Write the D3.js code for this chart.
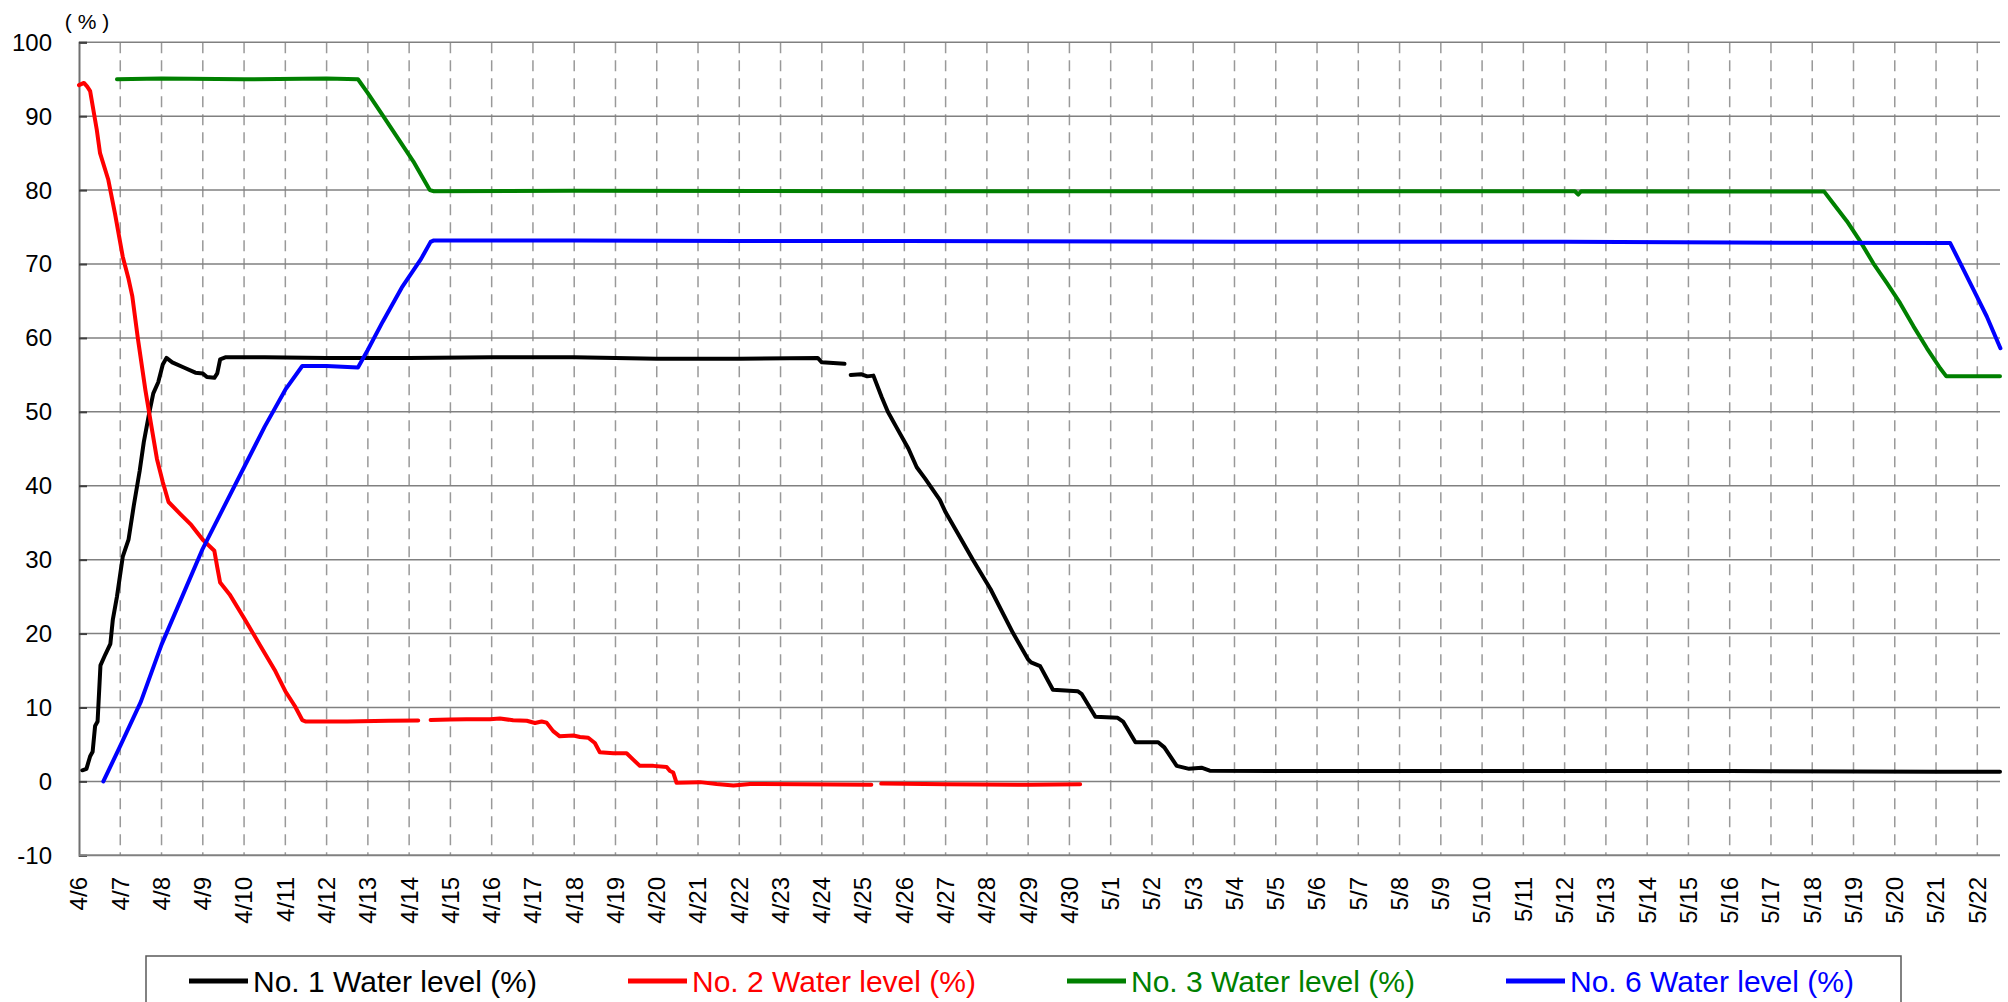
<!DOCTYPE html>
<html>
<head>
<meta charset="utf-8">
<script src="https://cdn.jsdelivr.net/npm/d3@7"></script>
<style>
  body { margin: 0; background: #fff; }
  text { font-family: "Liberation Sans", Arial, sans-serif; }
</style>
</head>
<body>
<div id="chart"></div>
<script>
// tick labels: one per day, 4/6 .. 5/22
const dayLabels = [
  "4/6", "4/7", "4/8", "4/9", "4/10", "4/11", "4/12", "4/13", "4/14", "4/15",
  "4/16", "4/17", "4/18", "4/19", "4/20", "4/21", "4/22", "4/23", "4/24", "4/25",
  "4/26", "4/27", "4/28", "4/29", "4/30", "5/1", "5/2", "5/3", "5/4", "5/5",
  "5/6", "5/7", "5/8", "5/9", "5/10", "5/11", "5/12", "5/13", "5/14", "5/15",
  "5/16", "5/17", "5/18", "5/19", "5/20", "5/21", "5/22"
];
const yTicks = [-10, 0, 10, 20, 30, 40, 50, 60, 70, 80, 90, 100];

// [days since 4/6 00:00, level %]; null level = missing data
const no1Level = [
  [0.08, 1.5], [0.18, 1.7], [0.27, 3.4], [0.33, 4.0], [0.39, 7.5], [0.45, 8.1],
  [0.52, 15.7], [0.64, 17.2], [0.76, 18.6], [0.82, 21.9], [0.92, 25.0], [1.06, 30.4],
  [1.2, 32.7], [1.33, 37.4], [1.47, 42.0], [1.57, 45.9], [1.7, 49.8], [1.8, 52.5],
  [1.92, 54.0], [2.03, 56.4], [2.12, 57.3], [2.26, 56.7], [2.54, 56.0], [2.82, 55.3],
  [3.0, 55.2], [3.1, 54.7], [3.28, 54.6], [3.35, 55.2], [3.42, 57.1], [3.56, 57.4],
  [4.5, 57.4], [6, 57.3], [8, 57.3], [10, 57.4], [12, 57.4], [14, 57.2], [16, 57.2],
  [17.9, 57.3], [18.0, 56.7], [18.55, 56.5], [18.6, null],
  [18.7, 55.0], [18.95, 55.1], [19.1, 54.8], [19.25, 54.9], [19.45, 52.0], [19.6, 50.0],
  [19.8, 48.0], [20.1, 45.0], [20.3, 42.5], [20.5, 41.0], [20.86, 38.1], [21.0, 36.4],
  [21.3, 33.5], [21.66, 30.0], [22.09, 26.0], [22.63, 20.1], [23.0, 16.5], [23.07, 16.1],
  [23.29, 15.6], [23.6, 12.4], [24.2, 12.2], [24.3, 11.8], [24.63, 8.75], [25.17, 8.6],
  [25.3, 8.1], [25.6, 5.3], [26.15, 5.3], [26.3, 4.6], [26.6, 2.1], [26.9, 1.7],
  [27.2, 1.85], [27.4, 1.45], [30, 1.4], [35, 1.4], [40, 1.4], [45, 1.3], [46.55, 1.3]
];

const no2Level = [
  [0, 94.2], [0.12, 94.5], [0.2, 94.0], [0.27, 93.4], [0.43, 88.2], [0.51, 85.0],
  [0.71, 81.4], [0.87, 76.9], [1.06, 71.0], [1.2, 68.0], [1.29, 65.7], [1.43, 59.8],
  [1.61, 52.9], [1.75, 48.2], [1.89, 43.6], [2.03, 40.5], [2.17, 37.8], [2.45, 36.2],
  [2.72, 34.7], [3.0, 32.7], [3.28, 31.2], [3.35, 29.0], [3.42, 26.9], [3.65, 25.3],
  [4.02, 21.9], [4.39, 18.4], [4.76, 14.9], [5.0, 12.2], [5.23, 10.2], [5.41, 8.3],
  [5.5, 8.1], [6.5, 8.1], [7.5, 8.2], [8.22, 8.25], [8.3, null],
  [8.52, 8.3], [8.99, 8.36], [9.39, 8.4], [9.96, 8.4], [10.2, 8.5], [10.52, 8.27],
  [10.85, 8.2], [11.05, 7.9], [11.21, 8.1], [11.33, 7.95], [11.49, 6.8], [11.65, 6.1],
  [11.98, 6.2], [12.14, 6.0], [12.34, 5.9], [12.5, 5.2], [12.62, 3.95], [12.95, 3.8],
  [13.27, 3.8], [13.43, 2.95], [13.59, 2.1], [13.92, 2.1], [14.24, 1.95], [14.32, 1.4],
  [14.4, 1.2], [14.48, -0.2], [15.05, -0.1], [15.45, -0.35], [15.86, -0.55], [16.26, -0.35],
  [17.47, -0.4], [19.2, -0.45], [19.3, null],
  [19.44, -0.3], [21, -0.4], [23, -0.45], [24.26, -0.4]
];

const no3Level = [
  [0.92, 95.0], [2, 95.1], [4, 95.0], [6, 95.1], [6.76, 95.0], [6.99, 93.2],
  [7.36, 90.1], [7.73, 87.0], [8.1, 83.9], [8.5, 80.0], [8.6, 79.85], [12, 79.9],
  [20, 79.85], [28, 79.85], [36.25, 79.85], [36.33, 79.4], [36.4, 79.85], [42.29, 79.8],
  [42.51, 78.2], [42.84, 75.8], [43.16, 73.1], [43.48, 70.1], [43.81, 67.4], [44.13, 64.7],
  [44.45, 61.6], [44.78, 58.6], [45.1, 55.9], [45.25, 54.8], [46.55, 54.8]
];

const no6Level = [
  [0.59, 0], [1.0, 4.8], [1.5, 10.8], [2.0, 18.5], [2.5, 25.0], [3.0, 31.5],
  [3.5, 37.0], [4.0, 42.5], [4.5, 48.0], [5.0, 53.0], [5.41, 56.2], [6.0, 56.2],
  [6.76, 56.0], [6.99, 58.3], [7.36, 62.2], [7.82, 66.8], [8.29, 70.7], [8.52, 73.0],
  [8.6, 73.2], [12, 73.2], [16, 73.1], [20, 73.1], [28, 73.0], [36, 73.0], [40, 72.9],
  [45.34, 72.85], [45.59, 70.1], [45.91, 66.5], [46.23, 62.9], [46.56, 58.6]
];

const seriesNames = ["No. 1 Water level (%)", "No. 2 Water level (%)", "No. 3 Water level (%)", "No. 6 Water level (%)"];
const seriesColors = ["#000000", "#ff0000", "#008000", "#0000ff"];
const seriesValues = [no1Level, no2Level, no3Level, no6Level];

const width = 2008, height = 1002;
const plot = { left: 79, right: 2000, top: 42.3, bottom: 855.3 };

const svg = d3.select("#chart").append("svg")
  .attr("width", width)
  .attr("height", height);

const x = d3.scaleLinear().domain([0, 46.55]).range([plot.left, plot.right]);
const y = d3.scaleLinear().domain([-10, 100]).range([plot.bottom, plot.top]);

// vertical dashed day lines
svg.append("g")
  .selectAll("line")
  .data(d3.range(1, dayLabels.length))
  .join("line")
  .attr("x1", d => x(d)).attr("x2", d => x(d))
  .attr("y1", plot.top).attr("y2", plot.bottom)
  .attr("stroke", "#999")
  .attr("stroke-width", 1.5)
  .attr("stroke-dasharray", "11,7");

// horizontal grid
svg.append("g")
  .selectAll("line")
  .data(yTicks.filter(d => d > -10))
  .join("line")
  .attr("x1", plot.left).attr("x2", plot.right)
  .attr("y1", d => y(d)).attr("y2", d => y(d))
  .attr("stroke", "#808080")
  .attr("stroke-width", 1.5);

// y axis
svg.append("g")
  .attr("transform", `translate(${plot.left},0)`)
  .call(d3.axisRight(y).tickValues(yTicks).tickSize(8).tickFormat(""))
  .call(g => g.select(".domain").attr("stroke", "#707070").attr("stroke-width", 2))
  .call(g => g.selectAll(".tick line").attr("stroke", "#404040").attr("stroke-width", 2));

svg.append("g")
  .selectAll("text")
  .data(yTicks)
  .join("text")
  .attr("x", 52)
  .attr("y", d => y(d))
  .attr("dy", "0.35em")
  .attr("text-anchor", "end")
  .attr("font-size", 24)
  .attr("fill", "#000")
  .text(d => d);

// x axis
svg.append("line")
  .attr("x1", plot.left).attr("x2", plot.right)
  .attr("y1", plot.bottom).attr("y2", plot.bottom)
  .attr("stroke", "#808080")
  .attr("stroke-width", 2);

svg.append("g")
  .selectAll("text")
  .data(dayLabels)
  .join("text")
  .attr("transform", (d, i) => `translate(${x(i)},877) rotate(-90)`)
  .attr("dy", "0.35em")
  .attr("text-anchor", "end")
  .attr("font-size", 24)
  .attr("fill", "#000")
  .text(d => d);

svg.append("text")
  .attr("x", 87)
  .attr("y", 29)
  .attr("text-anchor", "middle")
  .attr("font-size", 21)
  .text("( % )");

// series lines
const line = d3.line()
  .defined(d => d[1] != null)
  .x(d => x(d[0]))
  .y(d => y(d[1]));

svg.append("g")
  .selectAll("path")
  .data(seriesValues)
  .join("path")
  .attr("fill", "none")
  .attr("stroke", (d, i) => seriesColors[i])
  .attr("stroke-width", 4)
  .attr("stroke-linejoin", "round")
  .attr("stroke-linecap", "round")
  .attr("d", line);

// legend
svg.append("rect")
  .attr("x", 146).attr("y", 956)
  .attr("width", 1755).attr("height", 80)
  .attr("fill", "none")
  .attr("stroke", "#595959")
  .attr("stroke-width", 1.5);

const legendItem = svg.append("g")
  .selectAll("g")
  .data(seriesNames)
  .join("g")
  .attr("transform", (d, i) => `translate(${189 + i * 439},981)`);

legendItem.append("line")
  .attr("x1", 0).attr("x2", 59)
  .attr("stroke", (d, i) => seriesColors[i])
  .attr("stroke-width", 5);

legendItem.append("text")
  .attr("x", 64)
  .attr("dy", "0.35em")
  .attr("font-size", 30)
  .attr("fill", (d, i) => seriesColors[i])
  .text(d => d);
</script>
</body>
</html>
